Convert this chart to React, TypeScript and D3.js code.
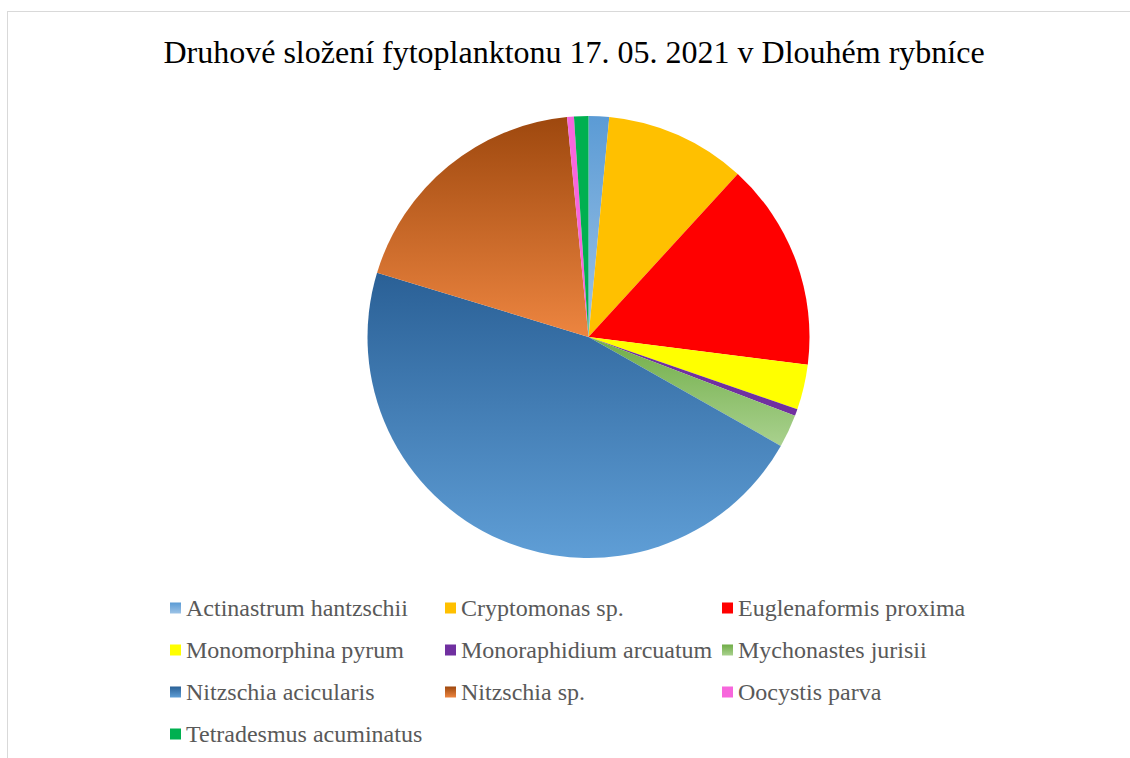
import React from "react";
import * as d3 from "d3";

const TITLE = "Druhové složení fytoplanktonu 17. 05. 2021 v Dlouhém rybníce";
const species = [
  "Actinastrum hantzschii",
  "Cryptomonas sp.",
  "Euglenaformis proxima",
  "Monomorphina pyrum",
  "Monoraphidium arcuatum",
  "Mychonastes jurisii",
  "Nitzschia acicularis",
  "Nitzschia sp.",
  "Oocystis parva",
  "Tetradesmus acuminatus",
];
const shares = [1.5, 10.3, 15.2, 3.3, 0.5, 2.4, 46.5, 18.75, 0.5, 1.05];
const colorTop = ["#5b9bd5", "#ffc000", "#ff0000", "#ffff00", "#7030a0", "#70ad47", "#2a6096", "#9e480e", "#f766dc", "#00b050"];
const colorBottom = ["#9dc3e6", "#ffc000", "#ff0000", "#ffff00", "#7030a0", "#a9d18e", "#5f9ed6", "#ed8540", "#f766dc", "#00b050"];

const W = 1130, H = 758;
const cx = 588.5, cy = 337, R = 221;
const legendCols = [170, 445, 722];
const legendRowY = [608, 650, 692, 734];

export default function App() {
  const data = species.map((s, i) => ({ s, v: shares[i], i }));
  const pie = d3.pie<any>().sort(null).value((d) => d.v).startAngle(0).endAngle(2 * Math.PI);
  const arcs = pie(data);
  const arc = d3.arc<any>().innerRadius(0).outerRadius(R);
  return (
    <svg width={W} height={H} style={{ position: "absolute", left: 0, top: 0, background: "#fff" }}
      fontFamily="'Liberation Serif', 'Times New Roman', serif">
      <defs>
        {species.map((s, i) => (
          <linearGradient key={i} id={`g${i}`} x1="0" y1="0" x2="0" y2="1">
            <stop offset="0" stopColor={colorTop[i]} />
            <stop offset="1" stopColor={colorBottom[i]} />
          </linearGradient>
        ))}
      </defs>
      <rect x={0} y={0} width={W} height={H} fill="#fff" />
      <rect x={7.5} y={11.5} width={W + 50} height={H + 50} fill="none" stroke="#d9d9d9" strokeWidth={1} />
      <text x={574} y={62.5} textAnchor="middle" fontSize={32} fill="#000">{TITLE}</text>
      <g transform={`translate(${cx},${cy})`}>
        {arcs.map((a, i) => (
          <path key={i} d={arc(a) as string} fill={`url(#g${i})`} />
        ))}
      </g>
      {species.map((s, i) => {
        const col = i % 3, row = Math.floor(i / 3);
        const x = legendCols[col], y = legendRowY[row];
        return (
          <g key={s}>
            <rect x={x} y={y - 5.5} width={11} height={11} fill={`url(#g${i})`} />
            <text x={x + 16} y={y + 7.5} fontSize={24} fill="#595959">{s}</text>
          </g>
        );
      })}
    </svg>
  );
}
